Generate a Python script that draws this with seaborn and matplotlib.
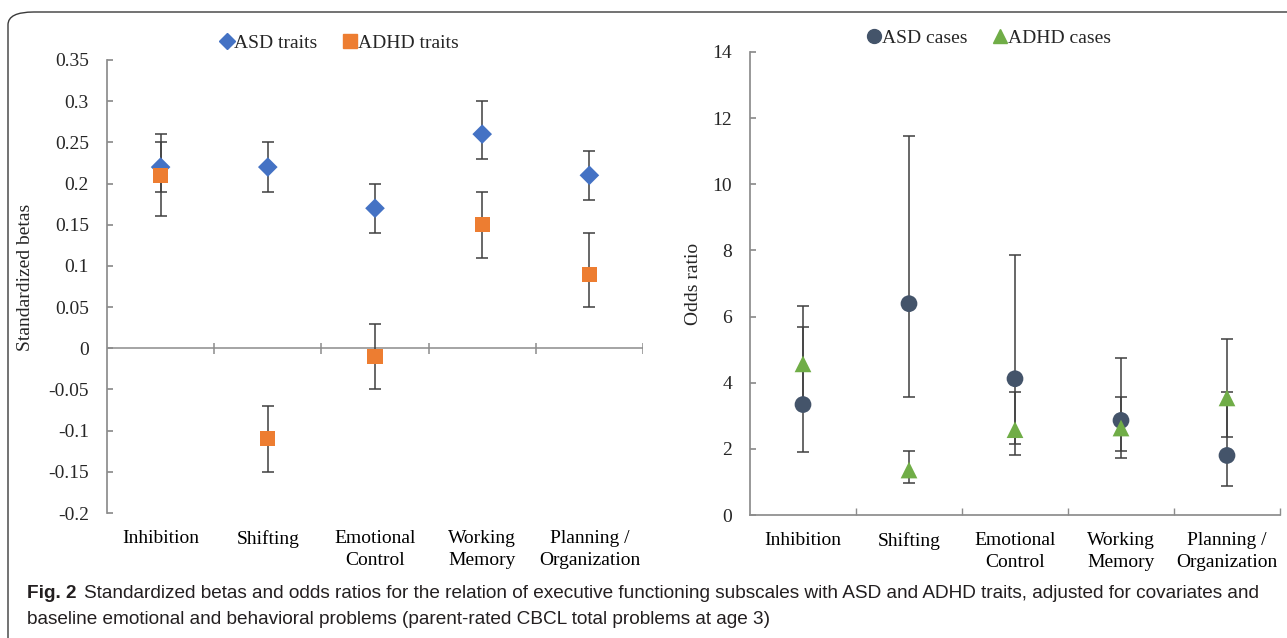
import seaborn as sns
import matplotlib.pyplot as plt
import pandas as pd
import numpy as np
from matplotlib.lines import Line2D
from matplotlib.patches import FancyBboxPatch

subscales = ["Inhibition", "Shifting", "Emotional\nControl", "Working\nMemory", "Planning /\nOrganization"]

# standardized betas (95% CI) for traits
asd_beta = [0.22, 0.22, 0.17, 0.26, 0.21]
asd_beta_lo = [0.19, 0.19, 0.14, 0.23, 0.18]
asd_beta_hi = [0.25, 0.25, 0.20, 0.30, 0.24]
adhd_beta = [0.21, -0.11, -0.01, 0.15, 0.09]
adhd_beta_lo = [0.16, -0.15, -0.05, 0.11, 0.05]
adhd_beta_hi = [0.26, -0.07, 0.03, 0.19, 0.14]

# odds ratios (95% CI) for cases
asd_or = [3.34, 6.39, 4.12, 2.86, 1.80]
asd_or_lo = [1.91, 3.57, 2.16, 1.72, 0.87]
asd_or_hi = [5.67, 11.45, 7.85, 4.76, 3.72]
adhd_or = [4.57, 1.36, 2.58, 2.63, 3.54]
adhd_or_lo = [3.30, 0.97, 1.81, 1.95, 2.37]
adhd_or_hi = [6.32, 1.94, 3.71, 3.56, 5.32]

beta_ticks = [0.35, 0.3, 0.25, 0.2, 0.15, 0.1, 0.05, 0, -0.05, -0.1, -0.15, -0.2]
or_ticks = [0, 2, 4, 6, 8, 10, 12, 14]

sns.set_theme(style="white")
plt.rcParams["font.family"] = ["Liberation Serif", "DejaVu Serif"]

AXIS = "#8c8c8c"
ERR = "#3f3f3f"
FS = 14

pos = np.arange(len(subscales))


def long_frame(groups):
    rows = []
    for name, vals, lo, hi in groups:
        for p, v, l, h in zip(pos, vals, lo, hi):
            rows.append({"pos": p, "value": v, "lo": l, "hi": h, "group": name})
    return pd.DataFrame(rows)


df_beta = long_frame([("ASD traits", asd_beta, asd_beta_lo, asd_beta_hi),
                      ("ADHD traits", adhd_beta, adhd_beta_lo, adhd_beta_hi)])
df_or = long_frame([("ASD cases", asd_or, asd_or_lo, asd_or_hi),
                    ("ADHD cases", adhd_or, adhd_or_lo, adhd_or_hi)])

fig = plt.figure(figsize=(12.87, 6.38), dpi=100)
ax1 = fig.add_axes([107 / 1287, 125 / 638, 536 / 1287, 453 / 638])
ax2 = fig.add_axes([750 / 1287, 123 / 638, 530 / 1287, 463 / 638])


def draw(ax, df, palette, markers, sizes):
    for name, g in df.groupby("group", sort=False):
        ax.errorbar(g["pos"], g["value"],
                    yerr=[g["value"] - g["lo"], g["hi"] - g["value"]],
                    fmt="none", ecolor=ERR, elinewidth=1.1, capsize=4, capthick=1.1, zorder=2)
    sns.scatterplot(data=df, x="pos", y="value", hue="group", style="group", size="group",
                    palette=palette, markers=markers, sizes=sizes, linewidth=0,
                    legend=False, ax=ax, zorder=3)


# left: standardized betas
draw(ax1, df_beta,
     {"ASD traits": "#4472C4", "ADHD traits": "#ED7D31"},
     {"ASD traits": "D", "ADHD traits": "s"},
     {"ASD traits": 100, "ADHD traits": 120})
ax1.set_xlim(-0.5, 4.5)
ax1.set_ylim(-0.2, 0.35)
ax1.set_yticks(beta_ticks)
ax1.set_yticklabels([f"{t:g}" for t in beta_ticks])
ax1.axhline(0, color=AXIS, lw=1.1, zorder=1)
ax1.vlines(np.arange(0.5, 5, 1), -0.0065, 0.0065, color=AXIS, lw=1.1, zorder=1)
for s in ["top", "right", "bottom"]:
    ax1.spines[s].set_visible(False)
ax1.spines["left"].set_color(AXIS)
ax1.set_xticks(pos)
ax1.set_xticklabels(subscales, linespacing=1.4)
ax1.tick_params(axis="x", length=0, pad=12, labelsize=FS, colors="black")
ax1.tick_params(axis="y", direction="in", length=4, color=AXIS, pad=13, labelsize=FS, left=True)
ax1.set_xlabel("")
ax1.set_ylabel("Standardized betas", fontsize=FS)
ax1.yaxis.set_label_coords(-0.137, 0.52)

# right: odds ratios
draw(ax2, df_or,
     {"ASD cases": "#44546A", "ADHD cases": "#70AD47"},
     {"ASD cases": "o", "ADHD cases": "^"},
     {"ASD cases": 145, "ADHD cases": 145})
ax2.set_xlim(-0.5, 4.5)
ax2.set_ylim(0, 14)
ax2.set_yticks(or_ticks)
ax2.set_yticklabels([str(t) for t in or_ticks])
for s in ["top", "right"]:
    ax2.spines[s].set_visible(False)
ax2.spines["left"].set_color(AXIS)
ax2.spines["bottom"].set_color(AXIS)
ax2.set_xticks(pos)
ax2.set_xticklabels(subscales, linespacing=1.4)
ax2.set_xticks(np.arange(0.5, 5, 1), minor=True)
ax2.tick_params(axis="x", which="major", length=0, pad=12, labelsize=FS, colors="black")
ax2.tick_params(axis="x", which="minor", direction="in", length=5, color=AXIS, bottom=True)
ax2.tick_params(axis="y", direction="in", length=4, color=AXIS, pad=13, labelsize=FS, left=True)
ax2.set_xlabel("")
ax2.set_ylabel("Odds ratio", fontsize=FS)
ax2.yaxis.set_label_coords(-0.09, 0.5)

# legends
h1 = [Line2D([], [], marker="D", ls="", color="#4472C4", markersize=8, label="ASD traits"),
      Line2D([], [], marker="s", ls="", color="#ED7D31", markersize=10, label="ADHD traits")]
fig.legend(handles=h1, loc="center", bbox_to_anchor=(340 / 1287, 1 - 43 / 638), ncol=2,
           frameon=False, fontsize=FS, handlelength=0.5, handletextpad=0.15, columnspacing=1.4)
h2 = [Line2D([], [], marker="o", ls="", color="#44546A", markersize=10, label="ASD cases"),
      Line2D([], [], marker="^", ls="", color="#70AD47", markersize=10, label="ADHD cases")]
fig.legend(handles=h2, loc="center", bbox_to_anchor=(990 / 1287, 1 - 38 / 638), ncol=2,
           frameon=False, fontsize=FS, handlelength=0.5, handletextpad=0.15, columnspacing=1.4)

# frame and caption
frame = FancyBboxPatch((8 / 1287, -0.05), 1.1, 1 - 12 / 638 + 0.05, transform=fig.transFigure,
                       boxstyle="round,pad=0,rounding_size=0.02", fill=False,
                       edgecolor="#3a3a3a", lw=1.0)
fig.patches.append(frame)
cap_font = ["Liberation Sans Narrow", "Liberation Sans", "DejaVu Sans"]
CAP = 13.7
fig.text(27 / 1287, 1 - 594 / 638, "Fig. 2", family=cap_font, weight="bold", fontsize=CAP,
         va="center", color="#231f20")
fig.text(84 / 1287, 1 - 594 / 638,
         "Standardized betas and odds ratios for the relation of executive functioning subscales "
         "with ASD and ADHD traits, adjusted for covariates and",
         family=cap_font, fontsize=CAP, va="center", color="#231f20")
fig.text(27 / 1287, 1 - 620 / 638,
         "baseline emotional and behavioral problems (parent-rated CBCL total problems at age 3)",
         family=cap_font, fontsize=CAP, va="center", color="#231f20")

fig.savefig("out.png", dpi=100)
